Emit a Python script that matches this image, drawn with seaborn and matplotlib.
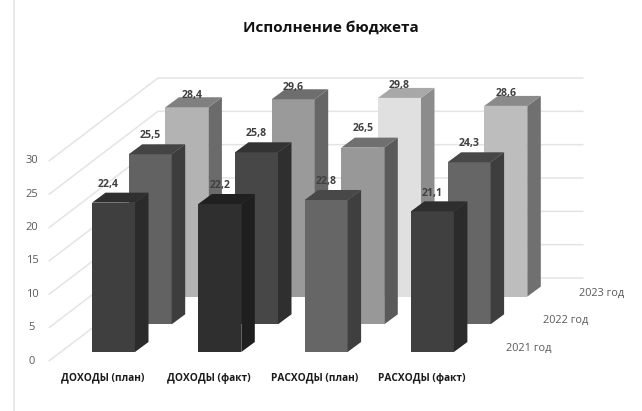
import pandas as pd
import seaborn as sns
import matplotlib.pyplot as plt
from matplotlib.patches import Polygon

categories = ["ДОХОДЫ (план)", "ДОХОДЫ (факт)", "РАСХОДЫ (план)", "РАСХОДЫ (факт)"]
years = ["2023 год", "2022 год", "2021 год"]  # back to front
values_2023 = [28.4, 29.6, 29.8, 28.6]
values_2022 = [25.5, 25.8, 26.5, 24.3]
values_2021 = [22.4, 22.2, 22.8, 21.1]
y_ticks = [0, 5, 10, 15, 20, 25, 30]

# front, side, top shades per year
front_2023 = ["#b3b3b3", "#9a9a9a", "#e0e0e0", "#bdbdbd"]
side_2023 = ["#6b6b6b", "#666666", "#8c8c8c", "#707070"]
top_2023 = ["#808080", "#6e6e6e", "#a8a8a8", "#8a8a8a"]
front_2022 = ["#626262", "#474747", "#989898", "#666666"]
side_2022 = ["#3d3d3d", "#2f2f2f", "#5a5a5a", "#3e3e3e"]
top_2022 = ["#444444", "#333333", "#707070", "#474747"]
front_2021 = ["#3f3f3f", "#2f2f2f", "#666666", "#404040"]
side_2021 = ["#2b2b2b", "#1f1f1f", "#3f3f3f", "#2b2b2b"]
top_2021 = ["#2f2f2f", "#202020", "#484848", "#2e2e2e"]

W, H = 642, 411
PX_X = 106.3  # px per category
PX_Y = 6.667  # px per value unit
X0, Y0 = 113.5, 352  # first front bar centre, front floor

sns.set_theme(style="white")
plt.rcParams["font.family"] = ["Open Sans", "DejaVu Sans"]

fig = plt.figure(figsize=(W / 100, H / 100), dpi=100)
ax = fig.add_axes([0, 0, 1, 1])


def dx(px):
    return px / PX_X


def dy(px):
    return px / PX_Y


def wall(ax):
    # floor-to-wall gridlines, left wall then back wall
    for t in y_ticks:
        ax.plot([dx(49 - X0), dx(158 - X0), dx(583 - X0)],
                [t + dy(Y0 - 361), t + dy(Y0 - 278), t + dy(Y0 - 278)],
                color="#e4e4e4", lw=1.1, zorder=1)
        ax.text(dx(32 - X0), t + dy(Y0 - 361), str(t), color="#595959",
                fontsize=8, ha="center", va="center")


wall(ax)
ax.plot([dx(14 - X0)] * 2, [dy(Y0 - 411), dy(Y0)], color="#e4e4e4", lw=1.1)

rows = [
    (values_2023, front_2023, side_2023, top_2023, 2, 12),
    (values_2022, front_2022, side_2022, top_2022, 1, 19),
    (values_2021, front_2021, side_2021, top_2021, 0, 18),
]

for year, (vals, front, side, top, depth, up) in zip(years, rows):
    df = pd.DataFrame({"category": categories, "value": vals})
    start = len(ax.patches)
    sns.barplot(data=df, x="category", y="value", hue="category", order=categories,
                hue_order=categories, palette=front, width=43 / PX_X, legend=False,
                saturation=1, ax=ax)
    bars = ax.patches[start:]
    shift_x = dx(36.7) * depth
    shift_y = dy(27.7) * depth
    for i, bar in enumerate(bars):
        bar.set_x(bar.get_x() + shift_x)
        bar.set_y(shift_y)
        bar.set_linewidth(0)
        x0, x1 = bar.get_x(), bar.get_x() + bar.get_width()
        y0, y1 = bar.get_y(), bar.get_y() + bar.get_height()
        bx, by = dx(13.5), dy(10)
        ax.add_patch(Polygon([(x1, y0), (x1 + bx, y0 + by), (x1 + bx, y1 + by), (x1, y1)],
                             facecolor=side[i], lw=0))
        ax.add_patch(Polygon([(x0, y1), (x1, y1), (x1 + bx, y1 + by), (x0 + bx, y1 + by)],
                             facecolor=top[i], lw=0))
    for i, bar in enumerate(bars):
        # first column labels sit a bit off centre in the original
        nudge = (depth - 1) * 5 if i == 0 else 0
        ax.text(bar.get_x() + bar.get_width() / 2 + dx(nudge), vals[i] + shift_y + dy(up),
                f"{vals[i]}".replace(".", ","), color="#404040", fontsize=7.6, fontweight="bold",
                ha="center", va="center", zorder=5)
    ax.text(dx(529 - X0 + 36.3 * depth), dy(Y0 - 348 + 27.2 * depth), year, color="#595959",
            fontsize=7.8, ha="center", va="center")

for i, cat in enumerate(categories):
    ax.text(i - dx(11), dy(Y0 - 378), cat, color="#1a1a1a", fontsize=7.3, fontweight="bold",
            ha="center", va="center")

ax.text(dx(331 - X0), dy(Y0 - 28), "Исполнение бюджета", color="#111111", fontsize=11,
        fontweight="bold", ha="center", va="center")

ax.set_xlim(-X0 / PX_X, (W - X0) / PX_X)
ax.set_ylim((Y0 - H) / PX_Y, Y0 / PX_Y)
ax.axis("off")

plt.savefig("out.png", dpi=100)
plt.close()
